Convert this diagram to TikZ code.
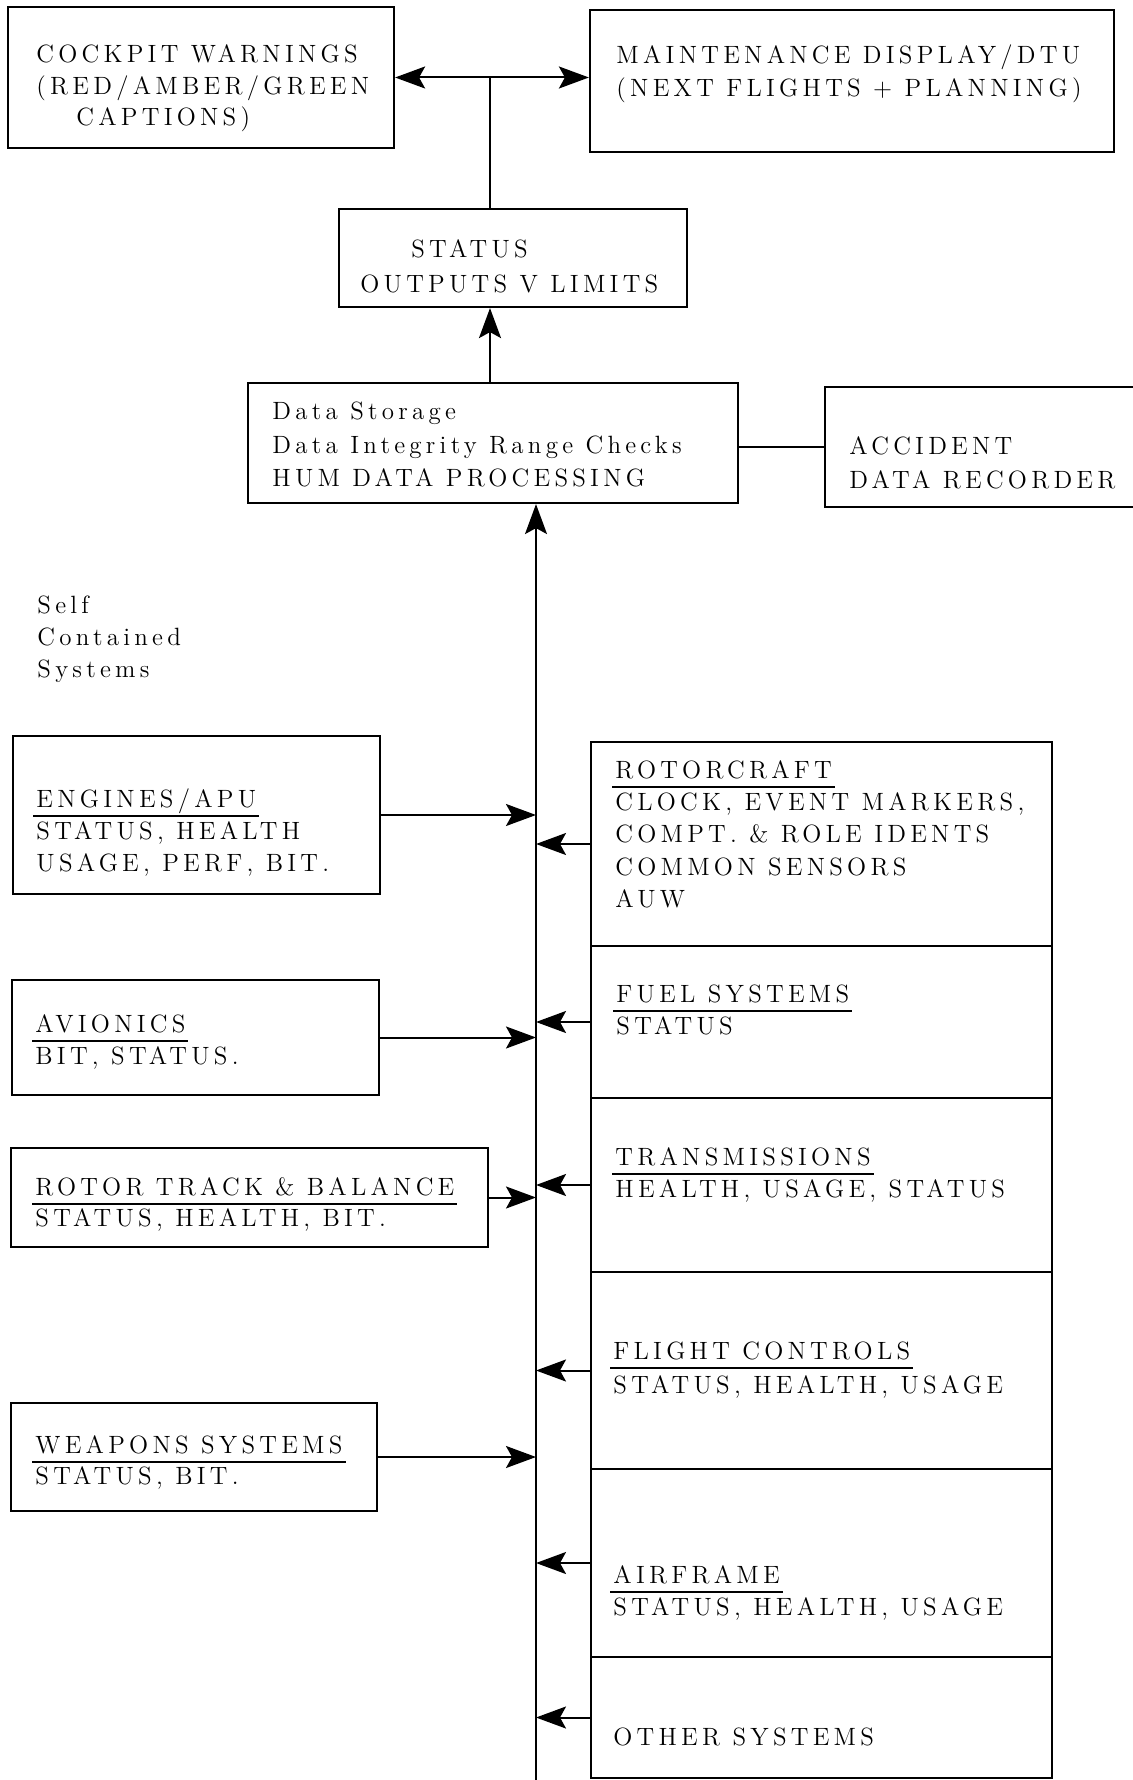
\documentclass[tikz,border=0pt]{standalone}
\usepackage{fontspec}
\setmainfont{lmroman12-regular.otf}[LetterSpace=17]
\usetikzlibrary{arrows.meta,fit}
\newsavebox\ulbox
\newcommand\ulx[1]{\sbox\ulbox{#1}\rlap{\kern-1.5pt\smash{\rule[-4.75pt]{\dimexpr\wd\ulbox+3pt\relax}{1pt}}}\usebox\ulbox}
\newcommand\dfont{\fontsize{12.5}{16.2}\selectfont}
\tikzset{
  box/.style={draw, line width=1.1pt, inner sep=0pt},
  txt/.style={anchor=base west, inner sep=0pt, font=\dfont},
  arr/.style={-{Stealth[length=15pt,width=11pt,inset=3pt]}, line width=1pt},
  arrboth/.style={{Stealth[length=15pt,width=11pt,inset=3pt]}-{Stealth[length=15pt,width=11pt,inset=3pt]}, line width=1pt},
  ln/.style={line width=1pt},
  busline/.style={line width=0.8pt, -{Stealth[length=15pt,width=11pt,inset=3pt]}}
}
\begin{document}
\begin{tikzpicture}[x=0.5pt,y=-0.5pt]
\useasboundingbox (0,0) rectangle (1133,1780);
\clip (0,0) rectangle (1133,1780);
% boxes
\node[box, fit={(8,7) (394,148)}] (cock) {};
\node[box, fit={(590,10) (1114,152)}] (maint) {};
\node[box, fit={(339,209) (687,307)}] (stat) {};
\node[box, fit={(248,383) (738,503)}] (data) {};
\node[box, fit={(825,387) (1160,507)}] (acc) {};
\node[box, fit={(13,736) (380,894)}] (eng) {};
\node[box, fit={(12,980) (379,1095)}] (avi) {};
\node[box, fit={(11,1148) (488,1247)}] (rtb) {};
\node[box, fit={(11,1403) (377,1511)}] (wea) {};
\node[box, fit={(591,742) (1052,946)}] (rot) {};
\node[box, fit={(591,946) (1052,1098)}] (fuel) {};
\node[box, fit={(591,1098) (1052,1272)}] (tra) {};
\node[box, fit={(591,1272) (1052,1469)}] (flt) {};
\node[box, fit={(591,1469) (1052,1657)}] (air) {};
\node[box, fit={(591,1657) (1052,1778)}] (oth) {};
% texts
\node[txt] (tcock) at (36,63) {\renewcommand\arraystretch{0.97}\begin{tabular}[t]{@{}l@{}}COCKPIT WARNINGS\\(RED/AMBER/GREEN\\\hspace*{20pt}CAPTIONS)\end{tabular}};
\node[txt] (tmaint) at (616,64) {\begin{tabular}[t]{@{}l@{}}MAINTENANCE DISPLAY/DTU\\(NEXT FLIGHTS + PLANNING)\end{tabular}};
\node[txt] (tstat) at (360,258) {\renewcommand\arraystretch{1.08}\begin{tabular}[t]{@{}l@{}}\hspace*{25.5pt}STATUS\\OUTPUTS V LIMITS\end{tabular}};
\node[txt] (tdata) at (272,420) {\renewcommand\arraystretch{1.02}\begin{tabular}[t]{@{}l@{}}Data Storage\\Data Integrity Range Checks\\HUM DATA PROCESSING\end{tabular}};
\node[txt] (tacc) at (849,455) {\renewcommand\arraystretch{1.02}\begin{tabular}[t]{@{}l@{}}ACCIDENT\\DATA RECORDER\end{tabular}};
\node[txt] (tself) at (37,613) {\begin{tabular}[t]{@{}l@{}}Self\\Contained\\Systems\end{tabular}};
\node[txt] (teng) at (36,807) {\begin{tabular}[t]{@{}l@{}}\ulx{ENGINES/APU}\\STATUS, HEALTH\\USAGE, PERF, BIT.\end{tabular}};
\node[txt] (tavi) at (35,1032) {\begin{tabular}[t]{@{}l@{}}\ulx{AVIONICS}\\BIT, STATUS.\end{tabular}};
\node[txt] (trtb) at (35,1195) {\renewcommand\arraystretch{0.96}\begin{tabular}[t]{@{}l@{}}\ulx{ROTOR TRACK \& BALANCE}\\STATUS, HEALTH, BIT.\end{tabular}};
\node[txt] (twea) at (35,1453) {\renewcommand\arraystretch{0.96}\begin{tabular}[t]{@{}l@{}}\ulx{WEAPONS SYSTEMS}\\STATUS, BIT.\end{tabular}};
\node[txt] (trot) at (615,778) {\begin{tabular}[t]{@{}l@{}}\ulx{ROTORCRAFT}\\CLOCK, EVENT MARKERS,\\COMPT. \& ROLE IDENTS\\COMMON SENSORS\\AUW\end{tabular}};
\node[txt] (tfuel) at (616,1002) {\begin{tabular}[t]{@{}l@{}}\ulx{FUEL SYSTEMS}\\STATUS\end{tabular}};
\node[txt] (ttra) at (615,1165) {\begin{tabular}[t]{@{}l@{}}\ulx{TRANSMISSIONS}\\HEALTH, USAGE, STATUS\end{tabular}};
\node[txt] (tflt) at (613,1359) {\renewcommand\arraystretch{1.05}\begin{tabular}[t]{@{}l@{}}\ulx{FLIGHT CONTROLS}\\STATUS, HEALTH, USAGE\end{tabular}};
\node[txt] (tair) at (613,1583) {\begin{tabular}[t]{@{}l@{}}\ulx{AIRFRAME}\\STATUS, HEALTH, USAGE\end{tabular}};
\node[txt] (toth) at (613,1745) {OTHER SYSTEMS};
% connectors
\coordinate (vx) at (490,0);
\coordinate (busb) at (536,1780);
\draw[arrboth] (cock.east) -- (cock.east -| maint.west);
\draw[ln] (stat.north -| vx) -- (vx |- cock.east);
\draw[arr] (data.north -| vx) -- (stat.south -| vx);
\draw[ln] (acc.west -| data.east) -- (acc.west);
\draw[busline] (busb) -- (data.south -| busb);
\draw[arr] (eng.east) -- (eng.east -| busb);
\draw[arr] (avi.east) -- (avi.east -| busb);
\draw[arr] (rtb.east) -- (rtb.east -| busb);
\draw[arr] (wea.east) -- (wea.east -| busb);
\draw[arr] (rot.west) -- (rot.west -| busb);
\draw[arr] (fuel.west) -- (fuel.west -| busb);
\draw[arr] (tra.west) -- (tra.west -| busb);
\draw[arr] (flt.west) -- (flt.west -| busb);
\draw[arr] (air.west) -- (air.west -| busb);
\draw[arr] (oth.west) -- (oth.west -| busb);
\end{tikzpicture}
\end{document}
